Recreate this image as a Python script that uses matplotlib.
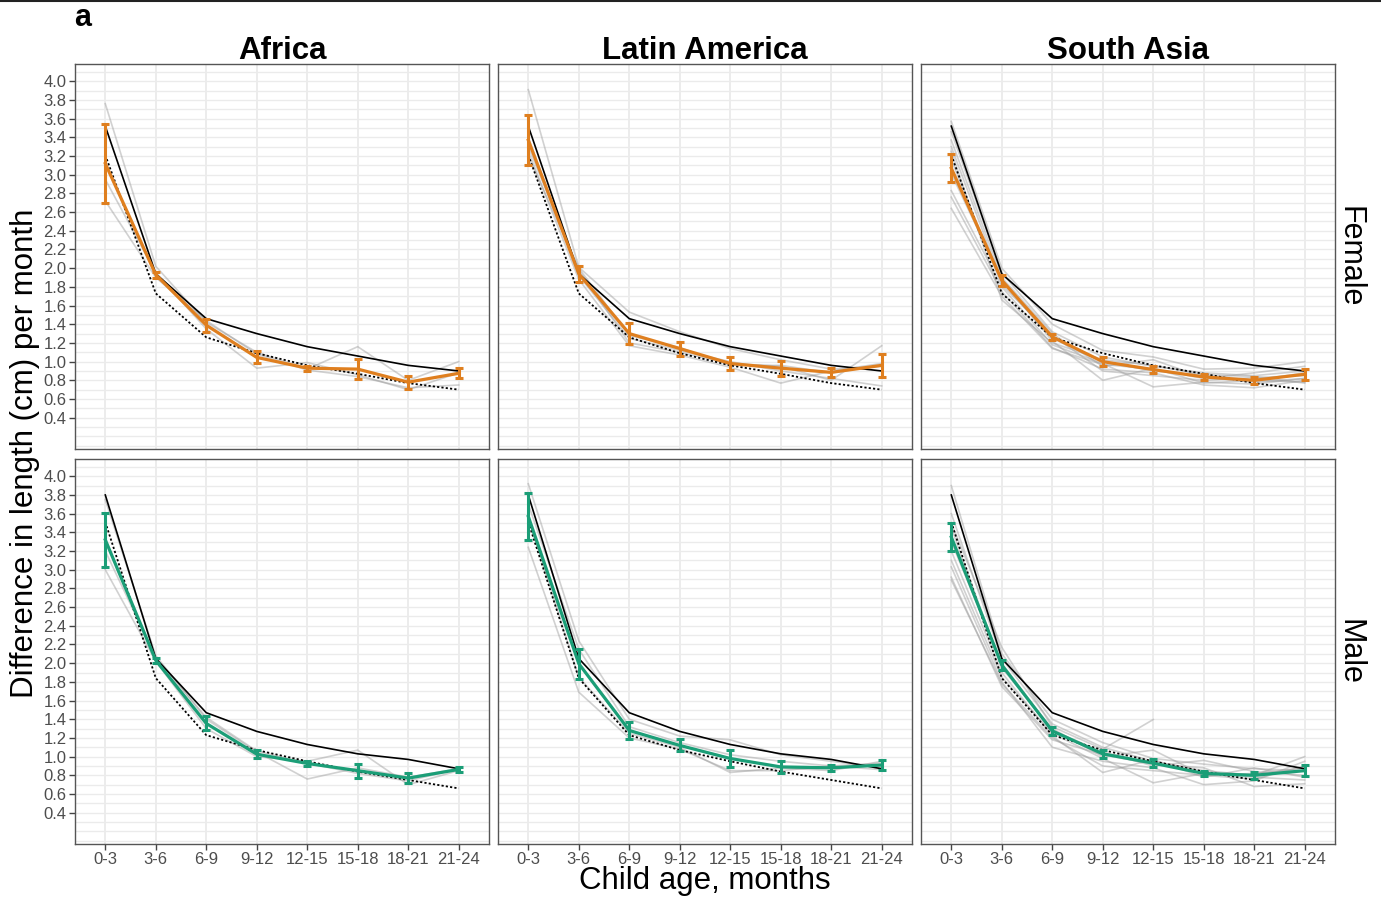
import numpy as np
import matplotlib
matplotlib.use("Agg")
import matplotlib.pyplot as plt
from matplotlib.lines import Line2D

plt.rcParams['font.family'] = ['Liberation Sans', 'DejaVu Sans']

# ---------------- data ----------------
age_groups = ["0-3", "3-6", "6-9", "9-12", "12-15", "15-18", "18-21", "21-24"]
regions = ["Africa", "Latin America", "South Asia"]
sexes = ["Female", "Male"]
y_ticks = [0.4, 0.6, 0.8, 1.0, 1.2, 1.4, 1.6, 1.8, 2.0, 2.2, 2.4, 2.6, 2.8, 3.0,
           3.2, 3.4, 3.6, 3.8, 4.0]

# reference curves (solid = standard median, dotted = reference)
ref_solid_female = [3.52, 1.94, 1.46, 1.30, 1.16, 1.06, 0.96, 0.90]
ref_dotted_female = [3.21, 1.73, 1.26, 1.09, 0.96, 0.87, 0.77, 0.70]
ref_solid_male = [3.80, 2.05, 1.47, 1.27, 1.13, 1.03, 0.97, 0.87]
ref_dotted_male = [3.51, 1.84, 1.23, 1.07, 0.95, 0.84, 0.75, 0.66]

# pooled means and error half-widths
africa_f_mean = [3.12, 1.93, 1.39, 1.045, 0.93, 0.92, 0.78, 0.875]
africa_f_err = [0.42, 0.03, 0.07, 0.065, 0.025, 0.11, 0.07, 0.055]
latam_f_mean = [3.37, 1.94, 1.30, 1.14, 0.98, 0.93, 0.885, 0.96]
latam_f_err = [0.27, 0.085, 0.115, 0.075, 0.07, 0.08, 0.05, 0.12]
sasia_f_mean = [3.07, 1.87, 1.265, 1.00, 0.915, 0.836, 0.80, 0.865]
sasia_f_err = [0.15, 0.06, 0.03, 0.05, 0.04, 0.035, 0.04, 0.06]

africa_m_mean = [3.32, 2.03, 1.355, 1.026, 0.927, 0.85, 0.77, 0.863]
africa_m_err = [0.29, 0.03, 0.075, 0.04, 0.025, 0.075, 0.055, 0.03]
latam_m_mean = [3.57, 1.995, 1.28, 1.12, 0.98, 0.89, 0.88, 0.91]
latam_m_err = [0.25, 0.16, 0.095, 0.065, 0.095, 0.065, 0.035, 0.055]
sasia_m_mean = [3.35, 1.98, 1.275, 1.03, 0.93, 0.82, 0.80, 0.85]
sasia_m_err = [0.15, 0.05, 0.04, 0.04, 0.04, 0.03, 0.04, 0.06]

# individual studies
africa_f_studies = [
    [3.76, 2.02, 1.42, 1.10, 0.92, 1.16, 0.80, 1.00],
    [2.95, 1.95, 1.35, 0.93, 0.99, 0.86, 0.70, 0.88],
    [2.72, 1.90, 1.44, 1.08, 0.91, 0.84, 0.72, 0.75],
]
latam_f_studies = [
    [3.91, 2.01, 1.53, 1.32, 1.14, 1.02, 0.92, 0.95],
    [3.30, 1.98, 1.20, 1.10, 0.98, 0.95, 0.80, 1.17],
    [3.25, 1.88, 1.17, 1.07, 0.94, 0.77, 0.90, 0.98],
    [3.40, 1.92, 1.25, 1.12, 1.00, 0.90, 0.82, 0.74],
    [3.20, 2.00, 1.28, 1.15, 0.96, 0.96, 0.88, 0.96],
]
sasia_f_studies = [
    [3.57, 2.00, 1.40, 1.12, 1.05, 0.92, 0.93, 1.00],
    [3.46, 1.95, 1.32, 1.05, 0.95, 0.88, 0.85, 0.90],
    [3.37, 1.90, 1.30, 0.95, 1.02, 0.83, 0.78, 0.82],
    [3.30, 1.85, 1.25, 1.00, 0.90, 0.85, 0.80, 0.88],
    [3.16, 1.82, 1.28, 0.90, 0.85, 0.80, 0.83, 0.85],
    [3.01, 1.88, 1.22, 0.80, 0.93, 0.77, 0.80, 0.78],
    [2.83, 1.80, 1.18, 0.98, 0.73, 0.78, 0.76, 0.82],
    [2.76, 1.75, 1.15, 0.92, 0.88, 0.75, 0.72, 0.80],
    [2.64, 1.70, 1.14, 0.97, 0.92, 0.82, 0.88, 0.95],
    [3.25, 1.66, 1.20, 1.02, 0.96, 0.86, 0.84, 0.77],
]
africa_m_studies = [
    [3.75, 2.08, 1.40, 1.05, 0.76, 0.88, 0.78, 0.87],
    [3.00, 2.02, 1.30, 1.00, 0.95, 1.07, 0.70, 0.85],
    [3.20, 2.06, 1.42, 1.06, 0.93, 0.82, 0.74, 0.87],
]
latam_m_studies = [
    [3.92, 2.24, 1.40, 1.22, 1.18, 1.02, 0.95, 0.88],
    [3.24, 1.69, 1.20, 1.08, 0.85, 0.85, 0.90, 0.93],
    [3.55, 1.85, 1.25, 1.10, 0.83, 0.88, 0.85, 0.95],
    [3.70, 2.15, 1.32, 1.15, 1.02, 0.95, 0.90, 0.86],
]
sasia_m_studies = [
    [3.90, 2.10, 1.40, 1.15, 0.98, 0.92, 0.87, 0.85],
    [3.60, 2.05, 1.35, 1.10, 0.95, 0.85, 0.80, 1.00],
    [3.45, 1.95, 1.30, 1.00, 1.07, 0.80, 0.76, 0.90],
    [3.30, 2.00, 1.28, 1.05, 0.90, 0.96, 0.84, 0.80],
    [3.20, 1.90, 1.22, 0.83, 0.97, 0.78, 0.88, 0.78],
    [3.10, 1.85, 1.25, 0.98, 0.72, 0.82, 0.78, 0.75],
    [3.03, 1.80, 1.10, 0.95, 0.88, 0.70, 0.74, 0.95],
    [2.92, 1.75, 1.18, 1.02, 0.92, 0.88, 0.68, 0.71],
    [2.89, 1.78, 1.20, 0.90, 0.85, 0.80, 0.82, 0.88],
    [3.50, 2.17, 1.32, 1.08, 1.397, np.nan, np.nan, np.nan],
]

panels = {
    ("Female", "Africa"): (africa_f_mean, africa_f_err, africa_f_studies),
    ("Female", "Latin America"): (latam_f_mean, latam_f_err, latam_f_studies),
    ("Female", "South Asia"): (sasia_f_mean, sasia_f_err, sasia_f_studies),
    ("Male", "Africa"): (africa_m_mean, africa_m_err, africa_m_studies),
    ("Male", "Latin America"): (latam_m_mean, latam_m_err, latam_m_studies),
    ("Male", "South Asia"): (sasia_m_mean, sasia_m_err, sasia_m_studies),
}
refs = {"Female": (ref_solid_female, ref_dotted_female),
        "Male": (ref_solid_male, ref_dotted_male)}
sex_colors = {"Female": "#DF7F1F", "Male": "#1B9E77"}

# ---------------- layout ----------------
W, H = 1381, 900
fig = plt.figure(figsize=(W / 100, H / 100), dpi=100)

col_left = [75, 498, 921]
col_w = 414
row_top = [64, 459]
row_h = 385

x = np.arange(len(age_groups))
grid_c = "#EBEBEB"

for ri, sex in enumerate(sexes):
    for ci, reg in enumerate(regions):
        l = col_left[ci] / W
        b = 1 - (row_top[ri] + row_h) / H
        ax = fig.add_axes([l, b, col_w / W, row_h / H])
        mean, err, studies = panels[(sex, reg)]
        solid, dotted = refs[sex]

        ax.set_xlim(-0.6, len(age_groups) - 1 + 0.6)
        ax.set_ylim(0.065, 4.185)

        # grid
        for g in np.arange(0.0, 4.25, 0.1):
            ax.axhline(g, color=grid_c, lw=1.0, zorder=0)
        for xi in x:
            ax.axvline(xi, color=grid_c, lw=1.3, zorder=0)

        for s in studies:
            ax.plot(x, s, color="#9A9A9A", alpha=0.45, lw=1.2, zorder=1)
        ax.plot(x, solid, color="black", lw=1.2, zorder=2)
        ax.plot(x, dotted, color="black", lw=1.3, ls=(0, (1.2, 1.2)), zorder=2)
        c = sex_colors[sex]
        ax.errorbar(x, mean, yerr=err, color=c, lw=2.3, elinewidth=2.2,
                    capsize=3.2, capthick=2.2, zorder=3)

        for sp in ax.spines.values():
            sp.set_color("#555555")
            sp.set_linewidth(1.0)

        ax.set_yticks(y_ticks)
        ax.set_xticks(x)
        ax.tick_params(axis="both", color="#444444", length=4, width=1,
                       labelsize=12, labelcolor="#4D4D4D", pad=2)
        if ci == 0:
            ax.set_yticklabels([f"{v:.1f}" for v in y_ticks])
        else:
            ax.tick_params(axis="y", length=0, labelleft=False)
        if ri == 1:
            ax.set_xticklabels(age_groups)
            ax.tick_params(axis="x", pad=2)
        else:
            ax.tick_params(axis="x", length=0, labelbottom=False)

        if ri == 0:
            fig.text((col_left[ci] + col_w / 2) / W, 1 - 51 / H, reg,
                     ha="center", va="center", fontsize=22.5, fontweight="bold")
        if ci == 2:
            fig.text(1350 / W, 1 - (row_top[ri] + row_h / 2) / H, sex,
                     ha="center", va="center", rotation=-90, fontsize=22)

fig.text(25 / W, 1 - 453 / H, "Difference in length (cm) per month",
         rotation=90, ha="center", va="center", fontsize=22.5)
fig.text(705 / W, 1 - 889 / H, "Child age, months", ha="center",
         va="baseline", fontsize=22.5)
fig.text(83 / W, 1 - 18 / H, "a", ha="center", va="center", fontsize=22,
         fontweight="bold")
fig.add_artist(Line2D([0, 1], [1 - 1 / H, 1 - 1 / H], color="#222222",
                      lw=1.5, transform=fig.transFigure))

fig.savefig("out.png", dpi=100)
